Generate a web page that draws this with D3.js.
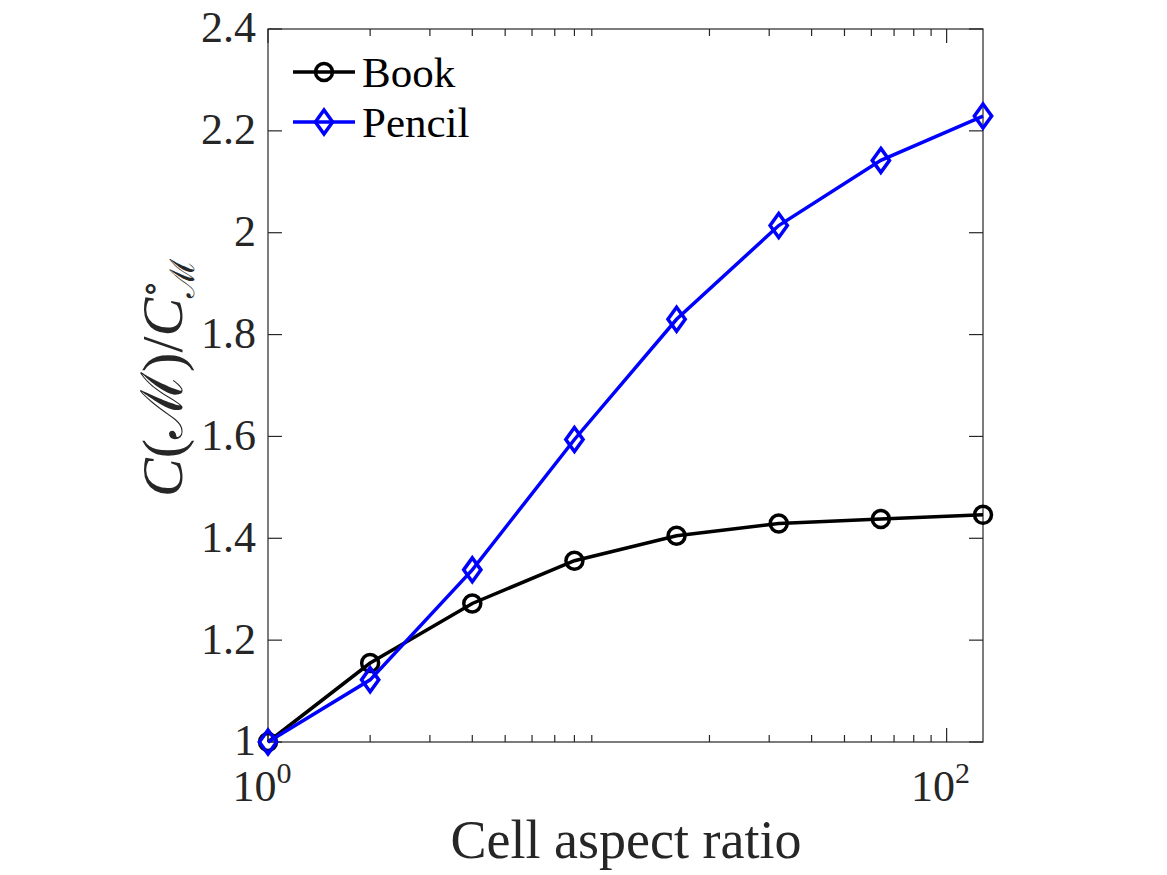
<!DOCTYPE html>
<html><head><meta charset="utf-8">
<script src="https://cdn.jsdelivr.net/npm/d3@7"></script>
<style>body{margin:0;background:#fff}</style>
</head><body>
<svg id="chart" width="1167" height="875"></svg>
<script>
const aspectRatios = [1, 2, 4, 8, 16, 32, 64, 128];
const bookValues   = [1.000, 1.155, 1.272, 1.356, 1.405, 1.429, 1.438, 1.446];
const pencilValues = [1.000, 1.122, 1.338, 1.594, 1.830, 2.014, 2.142, 2.229];
const yTicks = [1, 1.2, 1.4, 1.6, 1.8, 2, 2.2, 2.4];
const xMajorTicks = [1, 100];
const seriesNames = ["Book", "Pencil"];
const seriesColors = ["#000000", "#0000ff"];

const svg = d3.select("#chart");
const L = 268, R = 983, T = 29, B = 742;
const axisColor = "#262626";
const font = "'Liberation Serif', 'DejaVu Serif', serif";

const x = d3.scaleLog().domain([1, 128]).range([L, R]);
const y = d3.scaleLinear().domain([1, 2.4]).range([B, T]);

// box
svg.append("rect").attr("x", L).attr("y", T).attr("width", R - L).attr("height", B - T)
  .attr("fill", "none").attr("stroke", axisColor).attr("stroke-width", 1.2);

// x ticks (log)
const minor = [];
for (let d = 1; d <= 100; d *= 10) for (let k = 2; k <= 9; k++) { const v = k * d; if (v <= 128) minor.push(v); }
const tickG = svg.append("g").attr("stroke", axisColor).attr("stroke-width", 1.2);
minor.forEach(v => {
  tickG.append("line").attr("x1", x(v)).attr("x2", x(v)).attr("y1", B).attr("y2", B - 7);
  tickG.append("line").attr("x1", x(v)).attr("x2", x(v)).attr("y1", T).attr("y2", T + 7);
});
xMajorTicks.forEach(v => {
  tickG.append("line").attr("x1", x(v)).attr("x2", x(v)).attr("y1", B).attr("y2", B - 14);
  tickG.append("line").attr("x1", x(v)).attr("x2", x(v)).attr("y1", T).attr("y2", T + 14);
});
yTicks.forEach(v => {
  tickG.append("line").attr("x1", L).attr("x2", L + 14).attr("y1", y(v)).attr("y2", y(v));
  tickG.append("line").attr("x1", R).attr("x2", R - 14).attr("y1", y(v)).attr("y2", y(v));
});

// y tick labels
svg.append("g").selectAll("text").data(yTicks).join("text")
  .attr("x", L - 12).attr("y", d => y(d) - 2).attr("dy", "0.35em")
  .attr("text-anchor", "end").attr("font-family", font).attr("font-size", 44)
  .attr("fill", axisColor).text(d => d3.format("~g")(d));

// x tick labels
xMajorTicks.forEach(v => {
  const t = svg.append("text").attr("x", x(v) - 6).attr("y", 801)
    .attr("text-anchor", "middle").attr("font-family", font).attr("font-size", 44).attr("fill", axisColor);
  t.append("tspan").text("10");
  t.append("tspan").attr("dy", -18).attr("font-size", 30).text(String(Math.round(Math.log10(v))));
});

// axis labels
svg.append("text").attr("x", 626).attr("y", 858).attr("text-anchor", "middle")
  .attr("font-family", font).attr("font-size", 54).attr("fill", axisColor).text("Cell aspect ratio");

const yl = svg.append("text").attr("transform", `translate(182,${378}) rotate(-90)`)
  .attr("text-anchor", "middle").attr("font-family", font).attr("font-size", 58).attr("fill", axisColor);
yl.append("tspan").attr("font-style", "italic").text("C");
yl.append("tspan").text("(");
yl.append("tspan").attr("font-family", "'DejaVu Serif', serif").text("ℳ");
yl.append("tspan").text(")/");
yl.append("tspan").attr("font-style", "italic").text("C");
yl.append("tspan").attr("dy", -20).attr("font-size", 36).text("∘");
yl.append("tspan").attr("dy", 32).attr("dx", -18).attr("font-size", 34).attr("font-family", "'DejaVu Serif', serif").text("ℳ");

// series
const series = [bookValues, pencilValues];
const line = d3.line().x((d, i) => x(aspectRatios[i])).y(d => y(d));
const diamond = (cx, cy, s) => `M${cx},${cy - s}L${cx + s * 0.72},${cy}L${cx},${cy + s}L${cx - s * 0.72},${cy}Z`;

series.forEach((vals, si) => {
  svg.append("path").datum(vals).attr("d", line).attr("fill", "none")
    .attr("stroke", seriesColors[si]).attr("stroke-width", 3.5);
  const g = svg.append("g");
  vals.forEach((v, i) => {
    if (si === 0) g.append("circle").attr("cx", x(aspectRatios[i])).attr("cy", y(v)).attr("r", 8.5)
      .attr("fill", "none").attr("stroke", seriesColors[si]).attr("stroke-width", 3.5);
    else g.append("path").attr("d", diamond(x(aspectRatios[i]), y(v), 12))
      .attr("fill", "none").attr("stroke", seriesColors[si]).attr("stroke-width", 3.5);
  });
});

// legend
const legY = [72, 122];
seriesNames.forEach((n, i) => {
  svg.append("line").attr("x1", 293).attr("x2", 355).attr("y1", legY[i]).attr("y2", legY[i])
    .attr("stroke", seriesColors[i]).attr("stroke-width", 3.5);
  if (i === 0) svg.append("circle").attr("cx", 324).attr("cy", legY[i]).attr("r", 8.5)
    .attr("fill", "none").attr("stroke", seriesColors[i]).attr("stroke-width", 3.5);
  else svg.append("path").attr("d", diamond(324, legY[i], 12))
    .attr("fill", "none").attr("stroke", seriesColors[i]).attr("stroke-width", 3.5);
  svg.append("text").attr("x", 362).attr("y", legY[i]).attr("dy", "0.35em")
    .attr("font-family", font).attr("font-size", 43).attr("fill", "#000").text(n);
});
</script>
</body></html>
